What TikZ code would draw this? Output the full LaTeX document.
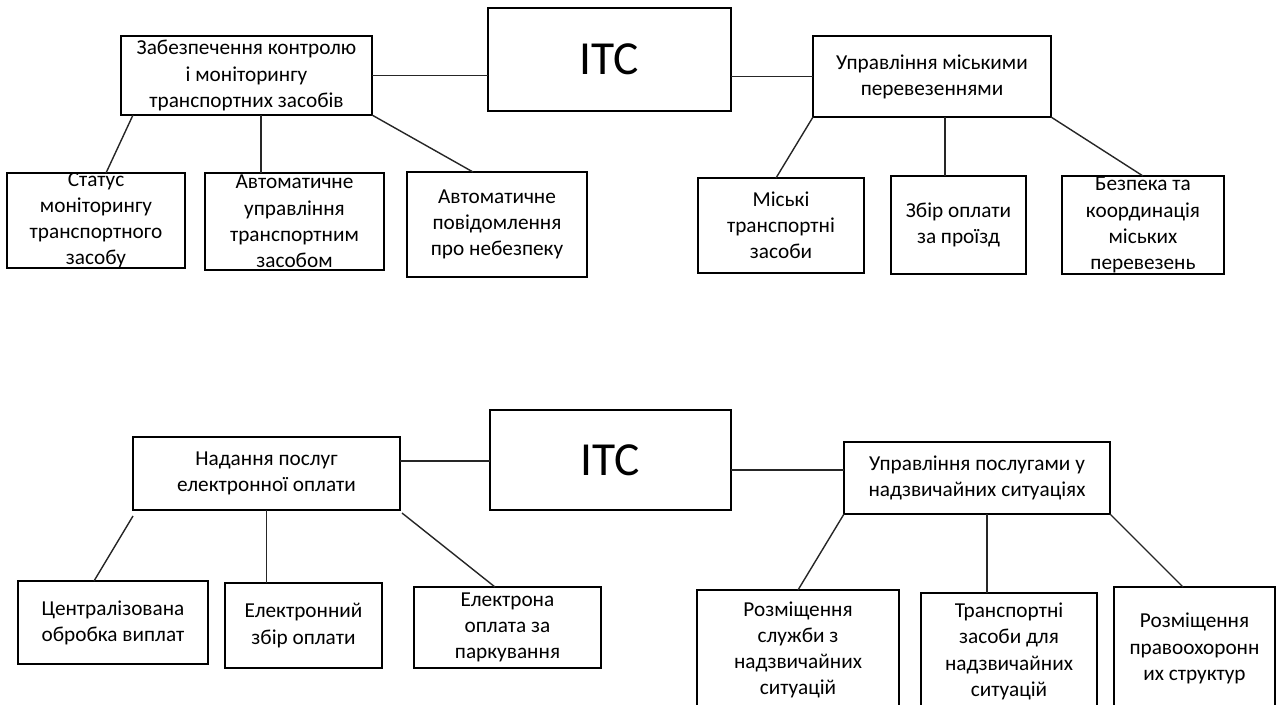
\documentclass[tikz,border=0pt]{standalone}
\usepackage{fontspec}
\setmainfont{Carlito}
\usepackage{tikz}

\begin{document}
\begin{tikzpicture}[frame/.style={draw,line width=1pt,inner sep=0pt,outer sep=0pt},
  txt/.style={align=center,inner sep=0pt,font=\fontsize{12.1}{14.9}\selectfont},
  hub/.style={frame,font=\fontsize{27}{30}\selectfont},link/.style={line width=0.8pt,draw=black!85}]
  \path[use as bounding box,clip] (0,0) rectangle (25.54,-14.08);
  % upper tree
  \node[hub,minimum width=4.86cm,minimum height=2.06cm] (itcA) at (12.19,-1.19) {ITC};
  \node[frame,minimum width=5.02cm,minimum height=1.58cm] (ctrl) at (4.93,-1.51) {};
  \node[txt] (ctrlT) at (ctrl) {Забезпечення контролю\\і моніторингу\\транспортних засобів};
  \node[frame,minimum width=4.76cm,minimum height=1.62cm] (city) at (18.64,-1.53) {};
  \node[txt] (cityT) at (city) {Управління міськими\\перевезеннями};
  \node[frame,minimum width=3.56cm,minimum height=1.90cm] (status) at (1.92,-4.41) {};
  \node[txt] (statusT) at (status) {Статус\\моніторингу\\транспортного\\засобу};
  \node[frame,minimum width=3.58cm,minimum height=1.94cm] (autodrive) at (5.89,-4.43) {};
  \node[txt] (autodriveT) at (autodrive) {Автоматичне\\управління\\транспортним\\засобом};
  \node[frame,minimum width=3.60cm,minimum height=2.10cm] (alarm) at (9.94,-4.49) {};
  \node[txt] (alarmT) at (alarm) {Автоматичне\\повідомлення\\про небезпеку};
  \node[frame,minimum width=3.32cm,minimum height=1.90cm] (cityveh) at (15.62,-4.51) {};
  \node[txt] (cityvehT) at (cityveh) {Міські\\транспортні\\засоби};
  \node[frame,minimum width=2.70cm,minimum height=1.96cm] (fare) at (19.17,-4.50) {};
  \node[txt] (fareT) at (fare) {Збір оплати\\за проїзд};
  \node[frame,minimum width=3.24cm,minimum height=1.96cm] (safety) at (22.86,-4.50) {};
  \node[txt] (safetyT) at (safety) {Безпека та\\координація\\міських\\перевезень};
  \draw[link] (ctrl.east) -- (ctrl.east -| itcA.west);
  \draw[link] (city.west) -- (city.west -| itcA.east);
  \draw[link] ([xshift=0.24cm]ctrl.south west) -- ([xshift=0.2cm]status.north);
  \draw[link] ([xshift=0.29cm]ctrl.south) -- ([xshift=0.29cm]ctrl.south |- autodrive.north);
  \draw[link] (ctrl.south east) -- ([xshift=-0.48cm]alarm.north);
  \draw[link] (city.south west) -- ([xshift=-0.1cm]cityveh.north);
  \draw[link] ([xshift=0.26cm]city.south) -- ([xshift=0.26cm]city.south |- fare.north);
  \draw[link] (city.south east) -- (safety.north);
  % lower tree
  \node[hub,minimum width=4.82cm,minimum height=2.00cm] (itcB) at (12.21,-9.20) {ITC};
  \node[frame,minimum width=5.34cm,minimum height=1.46cm] (epay) at (5.33,-9.47) {};
  \node[txt] (epayT) at (epay) {Надання послуг\\електронної оплати};
  \node[frame,minimum width=5.32cm,minimum height=1.44cm] (emerg) at (19.54,-9.56) {};
  \node[txt] (emergT) at (emerg) {Управління послугами у\\надзвичайних ситуаціях};
  \node[frame,minimum width=3.80cm,minimum height=1.66cm] (central) at (2.26,-12.45) {};
  \node[txt] (centralT) at (central) {Централізована\\обробка виплат};
  \node[frame,minimum width=3.14cm,minimum height=1.70cm] (ecollect) at (6.07,-12.51) {};
  \node[txt] (ecollectT) at (ecollect) {Електронний\\збір оплати};
  \node[frame,minimum width=3.74cm,minimum height=1.62cm] (parking) at (10.15,-12.55) {};
  \node[txt] (parkingT) at (parking) {Електрона\\оплата за\\паркування};
  \node[frame,minimum width=4.04cm,minimum height=2.40cm] (rescue) at (15.96,-13.00) {};
  \node[txt] (rescueT) at (rescue) {Розміщення\\служби з\\надзвичайних\\ситуацій};
  \node[frame,minimum width=3.52cm,minimum height=2.34cm] (emveh) at (20.18,-13.03) {};
  \node[txt] (emvehT) at (emveh) {Транспортні\\засоби для\\надзвичайних\\ситуацій};
  \node[frame,minimum width=3.22cm,minimum height=2.46cm] (police) at (23.89,-12.97) {};
  \node[txt] (policeT) at (police) {Розміщення\\правоохоронн\\их структур};
  \draw[link] ([yshift=0.25cm]epay.east) -- ([yshift=0.25cm]epay.east -| itcB.west);
  \draw[link] ([yshift=0.16cm]emerg.west) -- ([yshift=0.16cm]emerg.west -| itcB.east);
  \draw[link] ([yshift=-0.12cm]epay.south west) -- ([xshift=-0.38cm]central.north);
  \draw[link] (epay.south) -- (epay.south |- ecollect.north);
  \draw[link] ([shift={(0.04cm,-0.06cm)}]epay.south east) -- ([xshift=-0.25cm]parking.north);
  \draw[link] (emerg.south west) -- (rescue.north);
  \draw[link] ([xshift=0.2cm]emerg.south) -- ([xshift=0.2cm]emerg.south |- emveh.north);
  \draw[link] (emerg.south east) -- ([xshift=-0.23cm]police.north);
\end{tikzpicture}
\end{document}
